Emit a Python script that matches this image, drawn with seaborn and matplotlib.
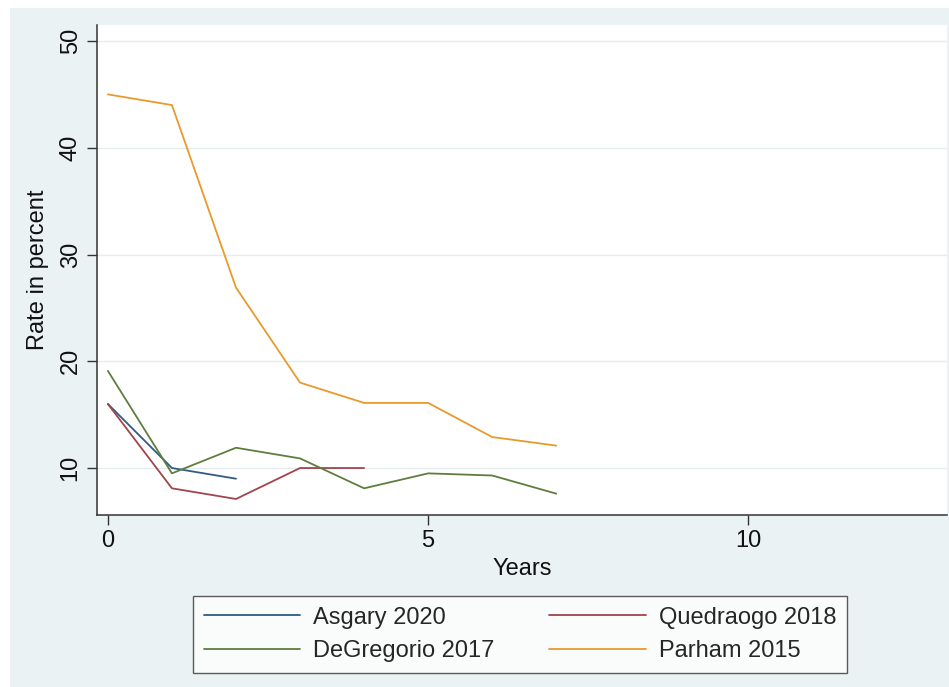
import numpy as np
import pandas as pd
import matplotlib
matplotlib.use("Agg")
import matplotlib.pyplot as plt
import seaborn as sns
from matplotlib.patches import Rectangle

# Follow-up rates (%) per study by year
studies = ["Asgary 2020", "Quedraogo 2018", "DeGregorio 2017", "Parham 2015"]
asgary_years = [0, 1, 2]
asgary_rate = [16.0, 10.0, 9.0]
quedraogo_years = [0, 1, 2, 3, 4]
quedraogo_rate = [16.0, 8.1, 7.1, 10.0, 10.0]
degregorio_years = [0, 1, 2, 3, 4, 5, 6, 7]
degregorio_rate = [19.1, 9.5, 11.9, 10.9, 8.1, 9.5, 9.3, 7.6]
parham_years = [0, 1, 2, 3, 4, 5, 6, 7]
parham_rate = [45.0, 44.0, 26.9, 18.0, 16.1, 16.1, 12.9, 12.1]

y_ticks = [10, 20, 30, 40, 50]
x_ticks = [0, 5, 10]

frames = []
for name, yrs, rate in [
    (studies[0], asgary_years, asgary_rate),
    (studies[1], quedraogo_years, quedraogo_rate),
    (studies[2], degregorio_years, degregorio_rate),
    (studies[3], parham_years, parham_rate),
]:
    frames.append(pd.DataFrame({"Years": yrs, "Rate": rate, "Study": name}))
df = pd.concat(frames, ignore_index=True)

palette = {
    "Asgary 2020": "#2f5b86",
    "Quedraogo 2018": "#a0454d",
    "DeGregorio 2017": "#5f7d3e",
    "Parham 2015": "#e99a2c",
}

sns.set_theme(style="white")
plt.rcParams["font.family"] = ["Liberation Sans", "DejaVu Sans"]

bg = "#eaf2f3"
fig = plt.figure(figsize=(9.49, 6.87), dpi=100, facecolor="white")
fig.patches.append(Rectangle((10 / 949, 0), 1, 1 - 8 / 687,
                             transform=fig.transFigure, facecolor=bg,
                             edgecolor="none", zorder=-10))
ax = fig.add_axes([97 / 949, 1 - 515 / 687, (947 - 97) / 949, (515 - 25) / 687])
ax.set_facecolor("white")

sns.lineplot(data=df, x="Years", y="Rate", hue="Study", hue_order=studies,
             palette=palette, linewidth=1.3, ax=ax, legend=True)

ax.set_xlim(-0.17, 13.1)
ax.set_ylim(5.6, 51.5)
ax.set_xticks(x_ticks)
ax.set_yticks(y_ticks)
ax.set_yticklabels([str(v) for v in y_ticks], rotation=90, va="center")
ax.grid(axis="y", color="#e4eced", linewidth=1.0)
ax.grid(axis="x", visible=False)
ax.set_axisbelow(True)

for s in ["top", "right"]:
    ax.spines[s].set_visible(False)
for s in ["left", "bottom"]:
    ax.spines[s].set_color("#333333")
    ax.spines[s].set_linewidth(1.1)

ax.tick_params(axis="both", which="major", length=7, width=1.0,
               color="#333333", labelsize=17, labelcolor="#111111",
               direction="out", left=True, bottom=True, pad=4)
ax.set_xlabel("Years", fontsize=17, color="#111111", labelpad=4)
ax.set_ylabel("Rate in percent", fontsize=17, color="#111111", labelpad=8)

# Legend entries laid out row by row: matplotlib fills columns first
handles, labels = ax.get_legend_handles_labels()
ax.get_legend().remove()
lookup = dict(zip(labels, handles))
order = [studies[0], studies[2], studies[1], studies[3]]
leg = fig.legend([lookup[k] for k in order], order, loc="center",
                 bbox_to_anchor=(520 / 949, 1 - 634.5 / 687), ncol=2,
                 fontsize=17, frameon=True, fancybox=False,
                 handlelength=4.1, columnspacing=2.3, borderpad=0.45,
                 labelspacing=0.5, handletextpad=0.55, borderaxespad=0)
leg.get_frame().set_edgecolor("#333333")
leg.get_frame().set_linewidth(1.0)
leg.get_frame().set_facecolor("white")

fig.savefig("out.png", dpi=100, facecolor=fig.get_facecolor())
